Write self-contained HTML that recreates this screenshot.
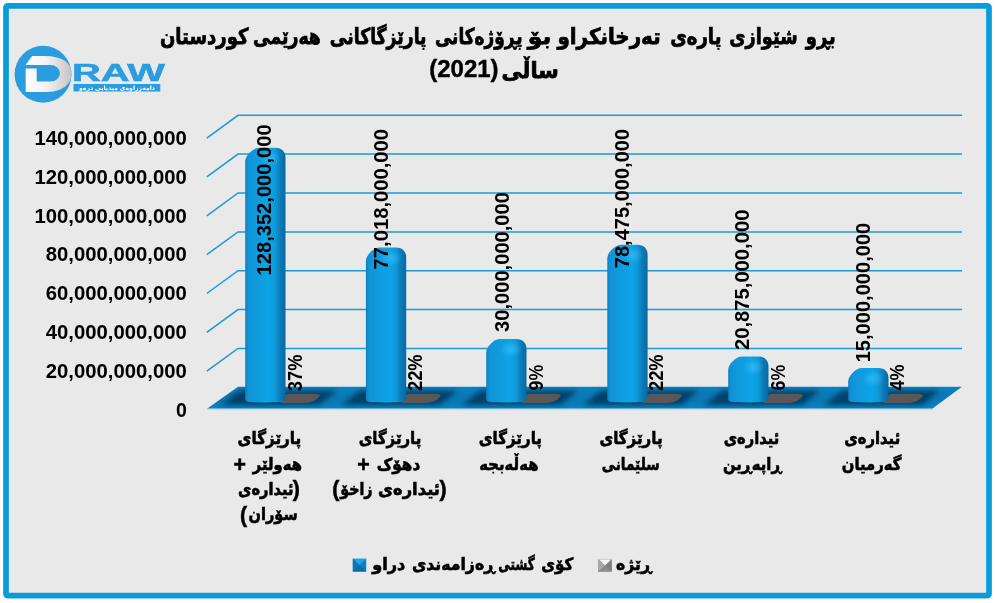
<!DOCTYPE html>
<html lang="ckb"><head><meta charset="utf-8"><title>Chart</title>
<style>html,body{margin:0;padding:0;background:#fff;}body{width:995px;height:603px;overflow:hidden;}svg{display:block;}.num{font-family:"Liberation Sans",sans-serif;font-weight:700;fill:#000;}.ar{font-family:"Liberation Sans","DejaVu Sans",sans-serif;font-weight:700;fill:#000;stroke:#000;stroke-width:0.6px;}</style></head><body>
<svg width="995" height="603" viewBox="0 0 995 603">
<defs>
<linearGradient id="barg" x1="0" y1="0" x2="1" y2="0">
<stop offset="0" stop-color="#0c7fbf"/><stop offset="0.07" stop-color="#0f93d6"/><stop offset="0.3" stop-color="#109bde"/><stop offset="0.6" stop-color="#0ba5e8"/><stop offset="0.74" stop-color="#0f99d9"/><stop offset="0.87" stop-color="#0b7ab7"/><stop offset="1" stop-color="#0a699f"/>
</linearGradient>
<linearGradient id="floorg" x1="0" y1="0" x2="0" y2="1">
<stop offset="0" stop-color="#0b85c4"/><stop offset="0.35" stop-color="#0a7ab6"/><stop offset="0.65" stop-color="#0a78b2"/><stop offset="1" stop-color="#0b82c0"/>
</linearGradient>
<radialGradient id="shad" cx="0.5" cy="0.5" r="0.5"><stop offset="0" stop-color="#043a5e" stop-opacity="0.75"/><stop offset="0.6" stop-color="#043a5e" stop-opacity="0.45"/><stop offset="1" stop-color="#043a5e" stop-opacity="0"/></radialGradient>
<linearGradient id="silver" gradientUnits="userSpaceOnUse" x1="25.7" y1="0" x2="71.4" y2="0"><stop offset="0" stop-color="#ffffff"/><stop offset="0.45" stop-color="#f3f1f1"/><stop offset="0.8" stop-color="#d9d5d5"/><stop offset="1" stop-color="#c4c2c4"/></linearGradient>
<filter id="blur" x="-20%" y="-60%" width="140%" height="220%"><feGaussianBlur stdDeviation="2.6"/></filter>
<clipPath id="floorclip"><polygon points="238,386.7 962,386.7 932.5,408.5 207.3,408.5"/></clipPath>
<radialGradient id="hl" cx="0.5" cy="0.5" r="0.5"><stop offset="0" stop-color="#38bbf6" stop-opacity="0.75"/><stop offset="1" stop-color="#38bbf6" stop-opacity="0"/></radialGradient>
</defs>
<rect x="0" y="0" width="995" height="603" fill="#fff"/>
<rect x="6" y="5.8" width="983" height="589.9" rx="1.8" ry="1.8" fill="#e9e9e9" stroke="#0a9bdb" stroke-width="5.7"/>
<polyline points="206.8,371.2 238.0,348.4 962.0,348.4" fill="none" stroke="#1b9ad6" stroke-width="1.5"/>
<polyline points="206.8,332.4 238.0,309.6 962.0,309.6" fill="none" stroke="#1b9ad6" stroke-width="1.5"/>
<polyline points="206.8,293.5 238.0,270.7 962.0,270.7" fill="none" stroke="#1b9ad6" stroke-width="1.5"/>
<polyline points="206.8,254.7 238.0,231.9 962.0,231.9" fill="none" stroke="#1b9ad6" stroke-width="1.5"/>
<polyline points="206.8,215.8 238.0,193.0 962.0,193.0" fill="none" stroke="#1b9ad6" stroke-width="1.5"/>
<polyline points="206.8,176.9 238.0,154.1 962.0,154.1" fill="none" stroke="#1b9ad6" stroke-width="1.5"/>
<polyline points="206.8,138.1 238.0,115.3 962.0,115.3" fill="none" stroke="#1b9ad6" stroke-width="1.5"/>
<text class="num" x="186.8" y="416.8" font-size="19.5" text-anchor="end">0</text>
<text class="num" x="45.8" y="377.9" font-size="19.5" textLength="141.0" lengthAdjust="spacingAndGlyphs">20,000,000,000</text>
<text class="num" x="45.8" y="339.1" font-size="19.5" textLength="141.0" lengthAdjust="spacingAndGlyphs">40,000,000,000</text>
<text class="num" x="45.8" y="300.2" font-size="19.5" textLength="141.0" lengthAdjust="spacingAndGlyphs">60,000,000,000</text>
<text class="num" x="45.8" y="261.4" font-size="19.5" textLength="141.0" lengthAdjust="spacingAndGlyphs">80,000,000,000</text>
<text class="num" x="34.5" y="222.5" font-size="19.5" textLength="152.3" lengthAdjust="spacingAndGlyphs">100,000,000,000</text>
<text class="num" x="34.5" y="183.6" font-size="19.5" textLength="152.3" lengthAdjust="spacingAndGlyphs">120,000,000,000</text>
<text class="num" x="34.5" y="144.8" font-size="19.5" textLength="152.3" lengthAdjust="spacingAndGlyphs">140,000,000,000</text>
<polygon points="238.0,386.7 962.0,386.7 932.5,408.5 207.3,408.5" fill="url(#floorg)"/>
<polygon points="207.3,408.5 932.5,408.5 933.2,409.3 206.3,409.3" fill="#54b3e4"/>
<g clip-path="url(#floorclip)">
<polygon points="239.2,390.5 337.2,390.5 319.2,405 221.2,405" fill="#043a60" opacity="0.88" filter="url(#blur)"/>
<polygon points="359.9,390.5 457.9,390.5 439.9,405 341.9,405" fill="#043a60" opacity="0.88" filter="url(#blur)"/>
<polygon points="480.2,390.5 578.2,390.5 560.2,405 462.2,405" fill="#043a60" opacity="0.88" filter="url(#blur)"/>
<polygon points="601.3,390.5 699.3,390.5 681.3,405 583.3,405" fill="#043a60" opacity="0.88" filter="url(#blur)"/>
<polygon points="722.2,390.5 820.2,390.5 802.2,405 704.2,405" fill="#043a60" opacity="0.88" filter="url(#blur)"/>
<polygon points="842.2,390.5 940.2,390.5 922.2,405 824.2,405" fill="#043a60" opacity="0.88" filter="url(#blur)"/>
</g>
<path d="M288.5,393.7 L313.5,393.7 Q321.5,393.7 319.5,396.2 Q315.5,403 302.5,403 L282.5,403 Q278.5,403.2 281.5,400 Q284.5,393.7 288.5,393.7Z" fill="#5b5756"/>
<path d="M245.2,161.3 C245.2,155.8 252.7,147.8 259.2,147.8 L275.5,147.8 C281.5,147.8 285.5,151.8 285.5,157.8 L285.5,399.2 Q285.5,401.8 280.5,402.1 Q265.3,402.9 250.2,402.1 Q245.2,401.8 245.2,399.2 Z" fill="url(#barg)"/>
<ellipse cx="270.2" cy="158.3" rx="11" ry="8" fill="url(#hl)"/>
<path d="M409.2,393.7 L434.2,393.7 Q442.2,393.7 440.2,396.2 Q436.2,403 423.2,403 L403.2,403 Q399.2,403.2 402.2,400 Q405.2,393.7 409.2,393.7Z" fill="#5b5756"/>
<path d="M365.9,261.1 C365.9,255.6 373.4,247.6 379.9,247.6 L396.2,247.6 C402.2,247.6 406.2,251.6 406.2,257.6 L406.2,399.2 Q406.2,401.8 401.2,402.1 Q386.0,402.9 370.9,402.1 Q365.9,401.8 365.9,399.2 Z" fill="url(#barg)"/>
<ellipse cx="390.9" cy="258.1" rx="11" ry="8" fill="url(#hl)"/>
<path d="M529.5,393.7 L554.5,393.7 Q562.5,393.7 560.5,396.2 Q556.5,403 543.5,403 L523.5,403 Q519.5,403.2 522.5,400 Q525.5,393.7 529.5,393.7Z" fill="#5b5756"/>
<path d="M486.2,352.4 C486.2,346.9 493.7,338.9 500.2,338.9 L516.5,338.9 C522.5,338.9 526.5,342.9 526.5,348.9 L526.5,399.2 Q526.5,401.8 521.5,402.1 Q506.3,402.9 491.2,402.1 Q486.2,401.8 486.2,399.2 Z" fill="url(#barg)"/>
<ellipse cx="511.2" cy="349.4" rx="11" ry="8" fill="url(#hl)"/>
<path d="M650.6,393.7 L675.6,393.7 Q683.6,393.7 681.6,396.2 Q677.6,403 664.6,403 L644.6,403 Q640.6,403.2 643.6,400 Q646.6,393.7 650.6,393.7Z" fill="#5b5756"/>
<path d="M607.3,258.2 C607.3,252.7 614.8,244.7 621.3,244.7 L637.6,244.7 C643.6,244.7 647.6,248.7 647.6,254.7 L647.6,399.2 Q647.6,401.8 642.6,402.1 Q627.4,402.9 612.3,402.1 Q607.3,401.8 607.3,399.2 Z" fill="url(#barg)"/>
<ellipse cx="632.3" cy="255.2" rx="11" ry="8" fill="url(#hl)"/>
<path d="M771.5,393.7 L796.5,393.7 Q804.5,393.7 802.5,396.2 Q798.5,403 785.5,403 L765.5,403 Q761.5,403.2 764.5,400 Q767.5,393.7 771.5,393.7Z" fill="#5b5756"/>
<path d="M728.2,370.1 C728.2,364.6 735.7,356.6 742.2,356.6 L758.5,356.6 C764.5,356.6 768.5,360.6 768.5,366.6 L768.5,399.2 Q768.5,401.8 763.5,402.1 Q748.4,402.9 733.2,402.1 Q728.2,401.8 728.2,399.2 Z" fill="url(#barg)"/>
<ellipse cx="753.2" cy="367.1" rx="11" ry="8" fill="url(#hl)"/>
<path d="M891.5,393.7 L916.5,393.7 Q924.5,393.7 922.5,396.2 Q918.5,403 905.5,403 L885.5,403 Q881.5,403.2 884.5,400 Q887.5,393.7 891.5,393.7Z" fill="#5b5756"/>
<path d="M848.2,381.6 C848.2,376.1 855.7,368.1 862.2,368.1 L878.5,368.1 C884.5,368.1 888.5,372.1 888.5,378.1 L888.5,399.2 Q888.5,401.8 883.5,402.1 Q868.4,402.9 853.2,402.1 Q848.2,401.8 848.2,399.2 Z" fill="url(#barg)"/>
<ellipse cx="873.2" cy="378.6" rx="11" ry="8" fill="url(#hl)"/>
<text class="num" transform="translate(271.2,275.4) rotate(-90)" font-size="19.5" textLength="151.0" lengthAdjust="spacingAndGlyphs">128,352,000,000</text>
<text class="num" transform="translate(387.5,269.4) rotate(-90)" font-size="19.5" textLength="140.5" lengthAdjust="spacingAndGlyphs">77,018,000,000</text>
<text class="num" transform="translate(508.8,331.9) rotate(-90)" font-size="19.5" textLength="139.8" lengthAdjust="spacingAndGlyphs">30,000,000,000</text>
<text class="num" transform="translate(628.7,268.2) rotate(-90)" font-size="19.5" textLength="139.3" lengthAdjust="spacingAndGlyphs">78,475,000,000</text>
<text class="num" transform="translate(749.3,350.0) rotate(-90)" font-size="19.5" textLength="140.4" lengthAdjust="spacingAndGlyphs">20,875,000,000</text>
<text class="num" transform="translate(870.3,362.3) rotate(-90)" font-size="19.5" textLength="139.6" lengthAdjust="spacingAndGlyphs">15,000,000,000</text>
<text class="num" transform="translate(302.0,391.2) rotate(-90)" font-size="19.5" textLength="36.6" lengthAdjust="spacingAndGlyphs">37%</text>
<text class="num" transform="translate(422.2,391.0) rotate(-90)" font-size="19.5" textLength="36.6" lengthAdjust="spacingAndGlyphs">22%</text>
<text class="num" transform="translate(543.0,390.4) rotate(-90)" font-size="19.5" textLength="25.6" lengthAdjust="spacingAndGlyphs">9%</text>
<text class="num" transform="translate(662.9,391.0) rotate(-90)" font-size="19.5" textLength="36.6" lengthAdjust="spacingAndGlyphs">22%</text>
<text class="num" transform="translate(784.6,390.4) rotate(-90)" font-size="19.5" textLength="25.6" lengthAdjust="spacingAndGlyphs">6%</text>
<text class="num" transform="translate(904.2,390.6) rotate(-90)" font-size="19.5" textLength="26.0" lengthAdjust="spacingAndGlyphs">4%</text>
<text class="ar" x="204.2" y="44" font-size="22" text-anchor="middle" textLength="88.5" lengthAdjust="spacingAndGlyphs" style="stroke-width:0.75px">کوردستان</text>
<text class="ar" x="286.9" y="44" font-size="22" text-anchor="middle" textLength="67.9" lengthAdjust="spacingAndGlyphs" style="stroke-width:0.75px">هەرێمی</text>
<text class="ar" x="378.2" y="44" font-size="22" text-anchor="middle" textLength="96.7" lengthAdjust="spacingAndGlyphs" style="stroke-width:0.75px">پارێزگاکانی</text>
<text class="ar" x="478.8" y="44" font-size="22" text-anchor="middle" textLength="87.5" lengthAdjust="spacingAndGlyphs" style="stroke-width:0.75px">پڕۆژەکانی</text>
<text class="ar" x="539.5" y="44" font-size="22" text-anchor="middle" textLength="23.6" lengthAdjust="spacingAndGlyphs" style="stroke-width:0.75px">بۆ</text>
<text class="ar" x="609.0" y="44" font-size="22" text-anchor="middle" textLength="103.2" lengthAdjust="spacingAndGlyphs" style="stroke-width:0.75px">تەرخانکراو</text>
<text class="ar" x="695.8" y="44" font-size="22" text-anchor="middle" textLength="51.3" lengthAdjust="spacingAndGlyphs" style="stroke-width:0.75px">پارەی</text>
<text class="ar" x="763.5" y="44" font-size="22" text-anchor="middle" textLength="68.3" lengthAdjust="spacingAndGlyphs" style="stroke-width:0.75px">شێوازی</text>
<text class="ar" x="820.8" y="44" font-size="22" text-anchor="middle" textLength="30.1" lengthAdjust="spacingAndGlyphs" style="stroke-width:0.75px">بڕو</text>
<text class="ar" x="530.1" y="77.5" font-size="22" text-anchor="middle" textLength="57.3" lengthAdjust="spacingAndGlyphs" style="stroke-width:0.75px">ساڵی</text>
<text class="num" x="429.2" y="77.3" font-size="24" stroke="#000" stroke-width="0.4">(2021)</text>
<text class="ar" x="269.4" y="444.1" font-size="17" text-anchor="middle" textLength="63.7" lengthAdjust="spacingAndGlyphs">پارێزگای</text>
<text class="ar" x="277.4" y="469.5" font-size="17" text-anchor="middle" textLength="49.1" lengthAdjust="spacingAndGlyphs">هەولێر</text>
<text class="num" x="239.7" y="471.8" font-size="21.33" text-anchor="middle" stroke="#000" stroke-width="0.5">+</text>
<text class="ar" x="265.8" y="494.9" font-size="17" text-anchor="middle" textLength="55.6" lengthAdjust="spacingAndGlyphs">ئیدارەی</text>
<text class="num" x="296.4" y="496.1" font-size="21.33" text-anchor="middle" stroke="#000" stroke-width="0.5">)</text>
<text class="ar" x="273.1" y="520.3" font-size="17" text-anchor="middle" textLength="49.2" lengthAdjust="spacingAndGlyphs">سۆران</text>
<text class="num" x="243.6" y="521.5" font-size="21.33" text-anchor="middle" stroke="#000" stroke-width="0.5">(</text>
<text class="ar" x="390.0" y="444.1" font-size="17" text-anchor="middle" textLength="62.7" lengthAdjust="spacingAndGlyphs">پارێزگای</text>
<text class="ar" x="398.5" y="469.5" font-size="17" text-anchor="middle" textLength="43.4" lengthAdjust="spacingAndGlyphs">دهۆک</text>
<text class="num" x="363.6" y="471.8" font-size="21.33" text-anchor="middle" stroke="#000" stroke-width="0.5">+</text>
<text class="num" x="335.7" y="496.1" font-size="21.33" text-anchor="middle" stroke="#000" stroke-width="0.5">(</text>
<text class="ar" x="356.4" y="494.9" font-size="17" text-anchor="middle" textLength="32.3" lengthAdjust="spacingAndGlyphs">زاخۆ</text>
<text class="ar" x="409.0" y="494.9" font-size="17" text-anchor="middle" textLength="62.0" lengthAdjust="spacingAndGlyphs">ئیدارەی</text>
<text class="num" x="443.1" y="496.1" font-size="21.33" text-anchor="middle" stroke="#000" stroke-width="0.5">)</text>
<text class="ar" x="510.4" y="444.1" font-size="17" text-anchor="middle" textLength="63.2" lengthAdjust="spacingAndGlyphs">پارێزگای</text>
<text class="ar" x="508.9" y="469.5" font-size="17" text-anchor="middle" textLength="59.1" lengthAdjust="spacingAndGlyphs">هەڵەبجە</text>
<text class="ar" x="631.0" y="444.1" font-size="17" text-anchor="middle" textLength="63.2" lengthAdjust="spacingAndGlyphs">پارێزگای</text>
<text class="ar" x="630.8" y="469.5" font-size="17" text-anchor="middle" textLength="57.9" lengthAdjust="spacingAndGlyphs">سلێمانی</text>
<text class="ar" x="751.4" y="444.1" font-size="17" text-anchor="middle" textLength="55.5" lengthAdjust="spacingAndGlyphs">ئیدارەی</text>
<text class="ar" x="752.2" y="469.5" font-size="17" text-anchor="middle" textLength="58.6" lengthAdjust="spacingAndGlyphs">ڕاپەڕین</text>
<text class="ar" x="872.2" y="444.1" font-size="17" text-anchor="middle" textLength="56.0" lengthAdjust="spacingAndGlyphs">ئیدارەی</text>
<text class="ar" x="871.6" y="469.5" font-size="17" text-anchor="middle" textLength="59.6" lengthAdjust="spacingAndGlyphs">گەرمیان</text>
<g><rect x="352.8" y="558.8" width="13.4" height="12.8" fill="#0b80c4"/><polygon points="352.8,558.8 366.2,558.8 359.5,565.2" fill="#1ba5ea"/><polygon points="352.8,558.8 359.5,565.2 352.8,571.6" fill="#0b77b8"/><polygon points="352.8,571.6 359.5,565.2 366.2,571.6" fill="#0a6aa6"/></g>
<text class="ar" x="388.8" y="570.4" font-size="17" text-anchor="middle" textLength="33.1" lengthAdjust="spacingAndGlyphs">دراو</text>
<text class="ar" x="453.4" y="570.4" font-size="17" text-anchor="middle" textLength="82.9" lengthAdjust="spacingAndGlyphs">ڕەزامەندی</text>
<text class="ar" x="516.5" y="570.4" font-size="17" text-anchor="middle" textLength="36.5" lengthAdjust="spacingAndGlyphs">گشتی</text>
<text class="ar" x="557.3" y="570.4" font-size="17" text-anchor="middle" textLength="32.1" lengthAdjust="spacingAndGlyphs">کۆی</text>
<g><rect x="598.2" y="559.1" width="13.7" height="12.5" fill="#7e7e7e"/><polygon points="598.2,559.1 611.9,559.1 605,565.6" fill="#f4f4f4"/><polygon points="598.2,559.1 605,565.6 598.2,571.6" fill="#a9a9a9"/><polygon points="598.2,571.6 605,565.6 611.9,571.6" fill="#8c8c8c"/><rect x="598.2" y="558.9" width="13.7" height="0.7" fill="#b5b5b5"/></g>
<text class="ar" x="633.9" y="570.4" font-size="17" text-anchor="middle" textLength="35.6" lengthAdjust="spacingAndGlyphs">ڕێژە</text>
<g>
<circle cx="43.05" cy="74.3" r="28.45" fill="#2a9de0"/>
<text font-family="&quot;Liberation Sans&quot;,sans-serif" font-weight="700"><tspan x="20.7" y="91.7" font-size="52.3" textLength="53.8" lengthAdjust="spacingAndGlyphs" fill="url(#silver)">D</tspan><tspan x="71.9" y="80.9" font-size="23.4" textLength="93.2" lengthAdjust="spacingAndGlyphs" fill="#2a9de0" stroke="#2a9de0" stroke-width="0.5">RAW</tspan></text>
<rect x="33" y="60" width="29" height="27.5" fill="url(#silver)"/>
<path d="M36.7,68.5 L36.7,81.6 L50.5,81.6 A9.5,8.3 0 0 0 50.5,65 L25,65 L25,68.5 Z" fill="#2a9de0"/>
<polygon points="24.5,54.5 33.3,54.5 25.2,65.6 24.5,65.6" fill="#2a9de0"/>
<rect x="73.5" y="84" width="86.8" height="7.5" fill="#2a9de0"/>
<text x="117" y="90.1" font-family="&quot;Liberation Sans&quot;,&quot;DejaVu Sans&quot;,sans-serif" font-weight="700" font-size="6" fill="#fff" text-anchor="middle" direction="rtl" textLength="76" lengthAdjust="spacingAndGlyphs">دامەزراوەی میدیایی درەو</text>
</g>
</svg></body></html>
